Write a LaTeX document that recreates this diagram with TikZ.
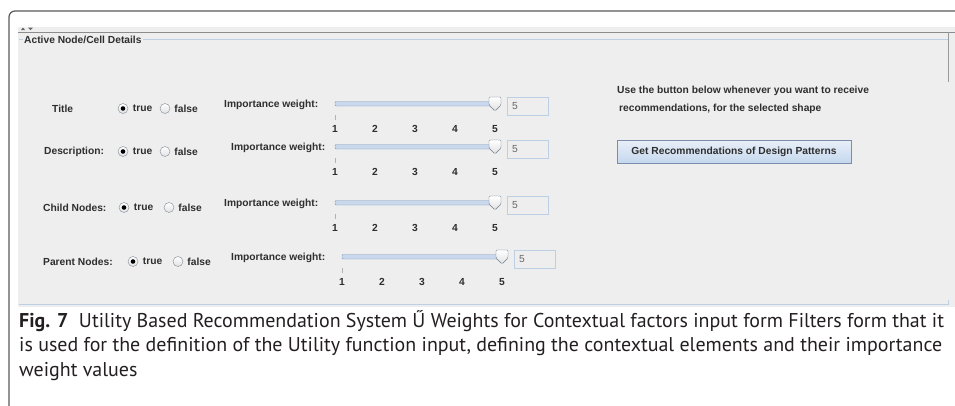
\documentclass[tikz,border=0pt]{standalone}
\usepackage{fontspec}
\setmainfont{Liberation Sans}
\newfontfamily\capfont{PT Sans}
\usetikzlibrary{positioning}
\definecolor{panelbg}{HTML}{EEEEEE}
\definecolor{uitext}{HTML}{2E2E2E}
\definecolor{boxline}{HTML}{BCCFE3}
\definecolor{trackfill}{HTML}{C9D8EC}
\definecolor{trackline}{HTML}{7F97B8}
\definecolor{thumbline}{HTML}{6F7E94}
\definecolor{radioline}{HTML}{7D8A99}
\definecolor{btnline}{HTML}{7A8DAA}
\definecolor{btnfill}{HTML}{C6D8EE}
\definecolor{captext}{HTML}{231F20}

\begin{document}
\begin{tikzpicture}[x=1pt, y=-1pt,
  ui/.style={font=\fontsize{10.25}{12}\selectfont\bfseries, text=uitext, inner sep=0pt},
  radio/.style={circle, draw=radioline, top color=white, bottom color=black!12, minimum size=10pt, inner sep=0pt},
  field/.style={draw=boxline, fill=panelbg, minimum width=41pt, minimum height=18pt, inner sep=0pt},
  thumb/.style={draw=thumbline, top color=white, bottom color=black!12, rounded corners=1.2pt}]
  \useasboundingbox (0,0) rectangle (955,405);
  % frame and panel
  \draw[black!65, line width=1.2pt, rounded corners=6pt] (9,406) -- (9,11) -- (956,11);
  \fill[panelbg] (18,27) rectangle (955,307);
  \draw[black!45] (18,32) -- (955,32);
  \fill[black!60] (21,30) -- (23,27.5) -- (25,30) -- cycle;
  \fill[black!60] (28,27.5) -- (33,27.5) -- (30.5,30) -- cycle;
  \draw[boxline] (19,39) -- (948,39);
  \draw[boxline] (19,304) -- (948,304) -- (948,300);
  \draw[black!40] (948,32) -- (948,82);
  \node[ui, fill=panelbg, inner xsep=1.5pt, anchor=west] (grp) at (22.5,40) {Active Node/Cell Details};
  % rows
  \foreach \n/\lab/\lx/\ra/\rb/\iw/\sx/\sy in {1/Title/52/123/165/224/335/104,
      2/Description:/44/123/165/231/335/147, 3/Child Nodes:/43/124/169/224/335/203,
      4/Parent Nodes:/43/133/178/231/342/257}{
    \node[ui, anchor=west] (lab\n) at (\lx,\sy+4.5) {\lab};
    \node[radio] (t\n) at (\ra,\sy+4.5) {};
    \fill[black] (t\n) circle (2.3pt);
    \node[ui, right=4.5pt of t\n] (tl\n) {true};
    \node[radio] (f\n) at (\rb,\sy+4.5) {};
    \node[ui, right=4pt of f\n] (fl\n) {false};
    \node[ui, anchor=west] (iw\n) at (\iw,\sy+0.5) {Importance weight:};
    \draw[trackline, fill=trackfill, rounded corners=1pt] (\sx,\sy-2.5) rectangle ({\sx+157},\sy+2);
    \draw[black!30] (\sx,\sy+11) -- (\sx,\sy+16);
    \draw[thumb] ({\sx+154},\sy-7) -- ({\sx+166},\sy-7) -- ({\sx+166},\sy+1)
      -- ({\sx+160},\sy+7) -- ({\sx+154},\sy+1) -- cycle;
    \node[field, anchor=west] (w\n) at ({\sx+172},\sy+2) {};
    \node[font=\fontsize{10.25}{12}\selectfont, text=black!60, inner sep=0pt, anchor=west] (v\n) at ([xshift=5pt]w\n.west) {5};
    \foreach \k in {1,...,5}
      \node[ui] (n\n-\k) at ({\sx+40*(\k-1)},\sy+25) {\k};
  }
  % hint and button
  \node[ui, anchor=west] (hint1) at (617,91) {Use the button below whenever you want to receive};
  \node[ui, anchor=west] (hint2) at (619,109) {recommendations, for the selected shape};
  \node[ui, draw=btnline, top color=white!60!btnfill, bottom color=btnfill, minimum width=234pt, minimum height=23pt] (btn) at (734,151.5) {Get Recommendations of Design Patterns};
  % caption
  \node[anchor=north west, align=left, inner sep=0pt, text=captext, font=\capfont\fontsize{19.95}{24.5}\selectfont] (cap) at (19,310)
    {\textbf{Fig. 7}\ \ Utility Based Recommendation System Ű Weights for Contextual factors input form Filters form that it\\
     is used for the definition of the Utility function input, defining the contextual elements and their importance\\
     weight values};
\end{tikzpicture}
\end{document}
